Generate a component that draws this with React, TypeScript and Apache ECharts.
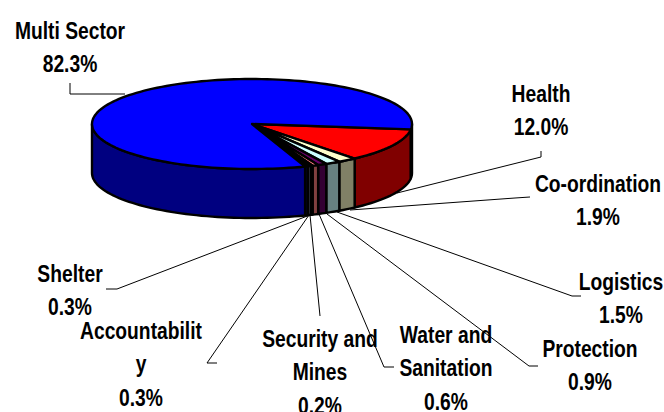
import React, { useEffect, useRef } from "react";
import * as echarts from "echarts";

const categories = ["Health", "Co-ordination", "Logistics", "Protection", "Water and Sanitation", "Security and Mines", "Accountability", "Shelter", "Multi Sector"];
const values = [12.0, 1.9, 1.5, 0.9, 0.6, 0.2, 0.3, 0.3, 82.3];
const percentLabels = ["12.0%", "1.9%", "1.5%", "0.9%", "0.6%", "0.2%", "0.3%", "0.3%", "82.3%"];
const nameLines = [["Health"], ["Co-ordination"], ["Logistics"], ["Protection"], ["Water and", "Sanitation"], ["Security and", "Mines"], ["Accountabilit", "y"], ["Shelter"], ["Multi Sector"]];
const topColors = ["#FF0000", "#FFFFCC", "#CCFFFF", "#660066", "#FF8080", "#0066CC", "#CCCCFF", "#000080", "#0000FF"];
const sideColors = ["#800000", "#808066", "#668080", "#330033", "#804040", "#003366", "#666680", "#000040", "#000080"];

const labelCenters = [[541, 94], [598, 184], [621, 282], [590, 349], [446, 335], [320, 339], [141, 331], [70, 274], [70, 31]];
const leaders = [
  [[541, 151], [541, 157], [397, 193]],
  [[530, 197], [515, 198], [350, 210]],
  [[581, 296], [572, 296], [337, 212]],
  [[538, 366], [529, 366], [327, 214]],
  [[394, 367], [384, 367], [319, 214]],
  [[320, 316], [310, 215]],
  [[217, 363], [207, 363], [309, 215]],
  [[106, 289], [117, 289], [310, 215]],
  [[70, 83], [70, 94], [125, 94]],
];

const CX = 252, CY = 124, RX = 160, RY = 45, DEPTH = 49, START = 6.9;
const total = values.reduce((a, b) => a + b, 0);
const LINE_H = 33.5;

function angles(i: number) {
  let s = START;
  for (let k = 0; k < i; k++) s += (values[k] / total) * 360;
  return [s, s + (values[i] / total) * 360];
}
const pt = (deg: number, dy = 0) => {
  const r = (deg * Math.PI) / 180;
  return [CX + RX * Math.cos(r), CY + RY * Math.sin(r) + dy];
};
function arc(a: number, b: number, dy = 0) {
  const n = Math.max(2, Math.ceil(Math.abs(b - a) / 2));
  const out: number[][] = [];
  for (let i = 0; i <= n; i++) out.push(pt(a + ((b - a) * i) / n, dy));
  return out;
}

function sideItem(_p: any, api: any) {
  const i = api.value(0);
  const [a, b] = angles(i);
  const children: any[] = [];
  [[0, 180], [360, 540]].forEach(([lo, hi]) => {
    const s = Math.max(a, lo), e = Math.min(b, hi);
    if (e > s) {
      children.push({
        type: "polygon",
        shape: { points: [...arc(s, e), ...arc(e, s, DEPTH)] },
        style: { fill: sideColors[i], stroke: "#000", lineWidth: 2.4, lineJoin: "round" },
      });
    }
  });
  return { type: "group", children };
}
function topItem(_p: any, api: any) {
  const i = api.value(0);
  const [a, b] = angles(i);
  return {
    type: "polygon",
    shape: { points: [[CX, CY], ...arc(a, b)] },
    style: { fill: topColors[i], stroke: "#000", lineWidth: 2.4, lineJoin: "round" },
  };
}

export default function App() {
  const ref = useRef<HTMLDivElement>(null);
  useEffect(() => {
    const chart = echarts.init(ref.current!, null, { renderer: "svg" });
    const data = categories.map((name, i) => ({ name, value: [i, values[i]] }));
    const graphic: any[] = [];
    leaders.forEach((points) => {
      graphic.push({ type: "polyline", z: 1, shape: { points }, style: { fill: "none", stroke: "#000", lineWidth: 1 } });
    });
    categories.forEach((_, i) => {
      const lines = [...nameLines[i], percentLabels[i]];
      lines.forEach((text, k) => {
        graphic.push({
          type: "text", z: 10, x: labelCenters[i][0], y: labelCenters[i][1] + k * LINE_H,
          scaleX: 0.82,
          style: { text, fill: "#000", align: "center", verticalAlign: "middle", font: 'bold 23.5px "Liberation Sans", sans-serif' },
        });
      });
    });
    chart.setOption({
      animation: false,
      backgroundColor: "#fff",
      graphic,
      series: [
        { type: "custom", coordinateSystem: "none", renderItem: sideItem, data, z: 3, silent: true },
        { type: "custom", coordinateSystem: "none", renderItem: topItem, data, z: 4, silent: true },
      ],
    });
    return () => chart.dispose();
  }, []);
  return <div ref={ref} style={{ position: "absolute", left: 0, top: 0, width: 664, height: 412 }} />;
}
